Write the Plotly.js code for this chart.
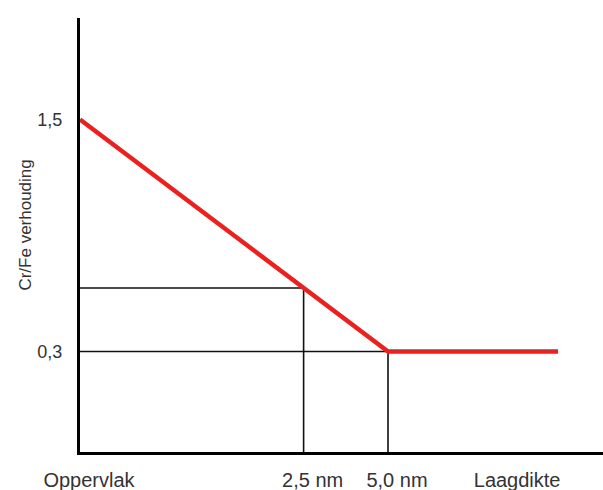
<!DOCTYPE html>
<html>
<head>
<meta charset="utf-8">
<script src="https://cdn.plot.ly/plotly-3.0.1.min.js"></script>
<style>html,body{margin:0;padding:0;background:#fff;}#chart{width:603px;height:490px;}</style>
</head>
<body>
<div id="chart"></div>
<script>
// Schematic: Cr/Fe ratio vs layer depth (x in schematic units)
const depth = [0, 5.0, 7.76];
const ratio = [1.5, 0.3, 0.3];

// guide at "2,5 nm"
const guide1X = [0, 3.63, 3.63];
const guide1Y = [0.628, 0.628, -0.22];
// guide at "5,0 nm"
const guide2X = [0, 5.0, 5.0];
const guide2Y = [0.3, 0.3, -0.22];

const xTickVals = [0, 3.63, 5.0, 6.95];
const xTickText = ["Oppervlak", "2,5 nm", "5,0 nm", "Laagdikte"];
const yTickVals = [1.5, 0.3];
const yTickText = ["1,5", "0,3"];

const font = "Liberation Sans, Arial, sans-serif";

const traces = [
  {x: guide1X, y: guide1Y, mode: "lines", line: {color: "#111", width: 1.6}, hoverinfo: "skip"},
  {x: guide2X, y: guide2Y, mode: "lines", line: {color: "#111", width: 1.6}, hoverinfo: "skip"},
  {x: depth, y: ratio, mode: "lines", line: {color: "#e8221e", width: 4.5}}
];

const layout = {
  width: 603, height: 490,
  margin: {l: 80, r: 0, t: 18, b: 38},
  showlegend: false,
  paper_bgcolor: "#fff", plot_bgcolor: "#fff",
  font: {family: font, color: "#333"},
  xaxis: {
    range: [0, 8.49], showgrid: false, zeroline: false,
    showline: true, linecolor: "#000", linewidth: 3,
    tickvals: xTickVals, ticktext: xTickText, ticks: "",
    tickfont: {size: 20, color: "#333", family: font},
    ticklabelshift: 9, ticklabelstandoff: 8
  },
  yaxis: {
    range: [-0.22, 2.025], showgrid: false, zeroline: false,
    showline: true, linecolor: "#000", linewidth: 3,
    tickvals: yTickVals, ticktext: yTickText, ticks: "",
    tickfont: {size: 18, color: "#333", family: font},
    ticklabelstandoff: 11
  },
  annotations: [{
    text: "Cr/Fe verhouding", textangle: -90,
    xref: "paper", yref: "paper", x: -0.106, y: 0.523,
    xanchor: "center", yanchor: "middle", showarrow: false,
    font: {size: 17, color: "#333", family: font}
  }]
};

Plotly.newPlot("chart", traces, layout, {displayModeBar: false, staticPlot: true});
</script>
</body>
</html>
